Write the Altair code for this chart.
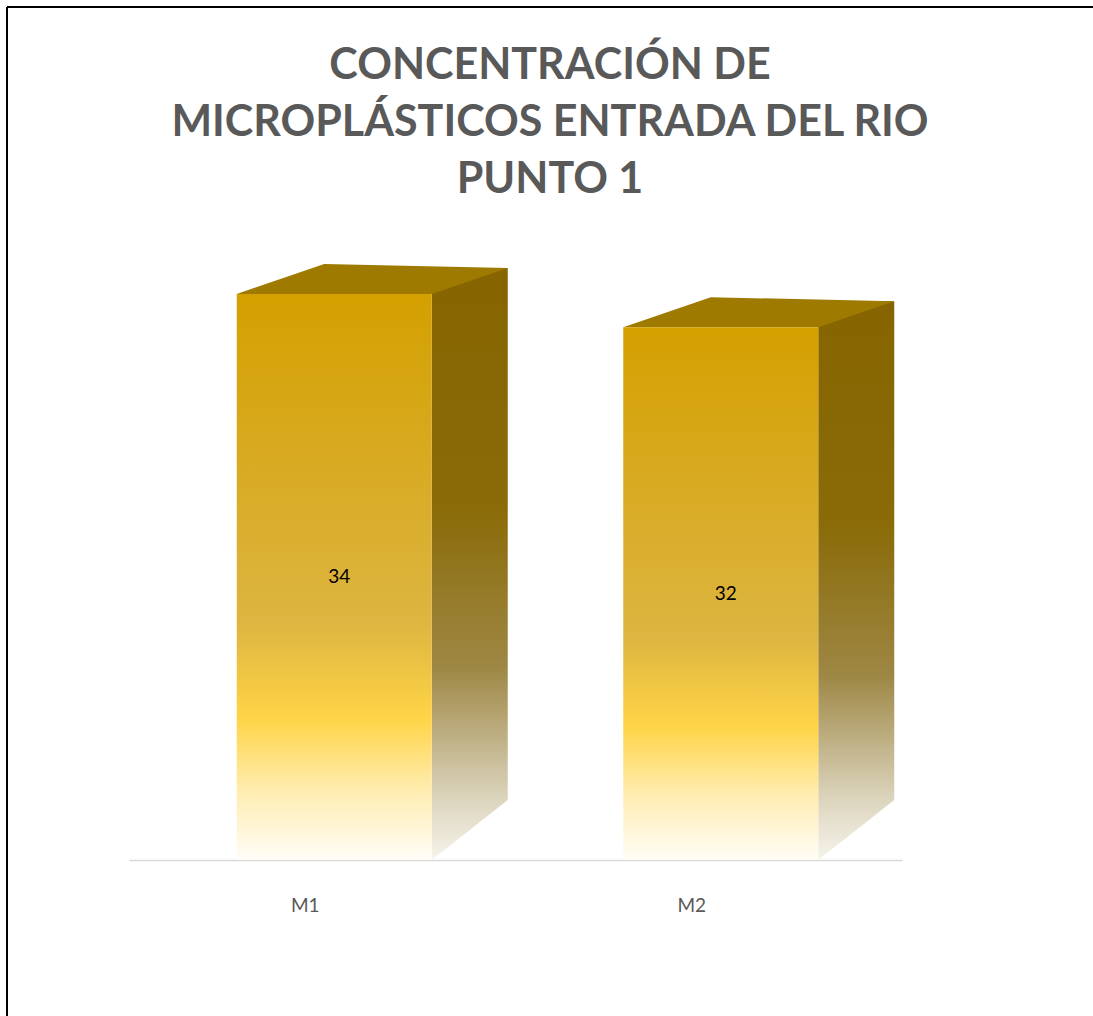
import altair as alt
import pandas as pd

# ---- data ----
categories = ["M1", "M2"]
values = [34, 32]
title_lines = ["CONCENTRACIÓN DE", "MICROPLÁSTICOS ENTRADA DEL RIO", "PUNTO 1"]

df = pd.DataFrame({"cat": categories, "value": values})

# ---- layout (styles only) ----
VIEW_W, VIEW_H = 1086, 630
PAD = {"left": 7, "top": 230, "right": 0, "bottom": 156}
SHIFT = 12            # horizontal nudge for all bar pieces
FRONT_W = 195
SIDE_W = 76
SYM_SIZE = 40000      # custom symbol unit = 100 px

x_enc = alt.X(
    "cat:N",
    sort=categories,
    title=None,
    scale=alt.Scale(range=[122, 895], paddingInner=0.5, paddingOuter=0.25),
    axis=alt.Axis(
        domainColor="#D9D9D9", domainWidth=1.5, ticks=False, labelAngle=0,
        labelFontSize=19, labelColor="#595959", labelFont="Lato",
        labelPadding=36, labelOffset=-17,
    ),
)
y_scale = alt.Scale(domain=[0, 37.84], nice=False, zero=False)
y_enc = alt.Y("value:Q", scale=y_scale, axis=None)

front_grad = alt.Gradient(
    gradient="linear", x1=0, x2=0, y1=0, y2=1,
    stops=[
        alt.GradientStop(color="#D4A000", offset=0),
        alt.GradientStop(color="#D9AC28", offset=0.35),
        alt.GradientStop(color="#DDB540", offset=0.58),
        alt.GradientStop(color="#FFD447", offset=0.75),
        alt.GradientStop(color="#FFEDB2", offset=0.88),
        alt.GradientStop(color="#FFFDF7", offset=1),
    ],
)
side_grad = alt.Gradient(
    gradient="linear", x1=0, x2=0, y1=0, y2=1,
    stops=[
        alt.GradientStop(color="#866500", offset=0),
        alt.GradientStop(color="#8A6B08", offset=0.45),
        alt.GradientStop(color="#9E8744", offset=0.75),
        alt.GradientStop(color="#DCD5BE", offset=1),
    ],
)
tri_grad = alt.Gradient(
    gradient="linear", x1=0, x2=0, y1=0, y2=1,
    stops=[
        alt.GradientStop(color="#DCD5BE", offset=0),
        alt.GradientStop(color="#F6F3EA", offset=1),
    ],
)

base = alt.Chart(df)

side = base.mark_bar(
    width=SIDE_W, xOffset=SHIFT + FRONT_W / 2 + SIDE_W / 2,
    yOffset=-26, y2Offset=-60, fill=side_grad, strokeWidth=0,
).encode(x=x_enc, y=y_enc, y2=alt.datum(0))

bottom_tri = base.mark_point(
    shape="M0.975,0L0.975,-0.6L1.735,-0.6Z", size=SYM_SIZE, filled=True,
    fill=tri_grad, opacity=1, strokeWidth=0, xOffset=SHIFT,
).encode(x=x_enc, y=alt.Y(datum=0, scale=y_scale, axis=None))

top_face = base.mark_point(
    shape="M-0.975,0L-0.1,-0.3L1.735,-0.26L0.975,0Z", size=SYM_SIZE, filled=True,
    fill="#9E7A00", opacity=1, strokeWidth=0, xOffset=SHIFT,
).encode(x=x_enc, y=y_enc)

front = base.mark_bar(
    width=FRONT_W, xOffset=SHIFT, fill=front_grad, strokeWidth=0,
).encode(x=x_enc, y=y_enc, y2=alt.datum(0))

labels = base.transform_calculate(half="datum.value / 2").mark_text(
    font="Lato", fontSize=19, color="#000000", xOffset=SHIFT + 5,
).encode(x=x_enc, y=alt.Y("half:Q", scale=y_scale, axis=None), text="value:Q")

frame_top = base.mark_rule(color="#000000", strokeWidth=2).encode(
    x=alt.value(0), x2=alt.value(VIEW_W), y=alt.value(-PAD["top"] + 7)
)
frame_left = base.mark_rule(color="#000000", strokeWidth=2).encode(
    x=alt.value(0), y=alt.value(-PAD["top"] + 7), y2=alt.value(VIEW_H + PAD["bottom"])
)

chart = alt.layer(
    side, bottom_tri, top_face, front, labels, frame_top, frame_left
).properties(
    width=VIEW_W,
    height=VIEW_H,
    padding=PAD,
    autosize=alt.AutoSizeParams(type="none"),
    background="white",
    title=alt.TitleParams(
        text=title_lines, font="Lato", fontSize=43, fontWeight="bold",
        color="#595959", anchor="middle", frame="group", offset=-196,
        lineHeight=57,
    ),
).configure_view(stroke="transparent")

chart.save("out.html", embed_options={"renderer": "svg", "actions": False})
